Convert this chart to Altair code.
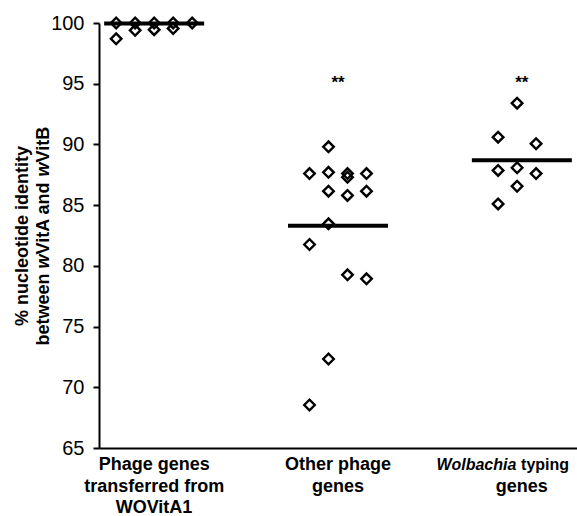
import altair as alt
import pandas as pd

# ---------------- data ----------------
group_pos = [1, 2, 3]
g1_values = [100, 100, 100, 100, 100, 98.7, 99.4, 99.45, 99.55]
g1_cols = [-2, -1, 0, 1, 2, -2, -1, 0, 1]
g2_values = [89.8, 87.6, 87.7, 87.6, 87.3, 87.6, 86.15, 85.8, 86.15,
             83.46, 81.76, 79.26, 78.93, 72.33, 68.54]
g2_cols = [-0.5, -1.5, -0.5, 0.5, 0.5, 1.5, -0.5, 0.5, 1.5,
           -0.5, -1.5, 0.5, 1.5, -0.5, -1.5]
g3_values = [93.4, 90.6, 90.06, 87.86, 88.08, 87.6, 86.56, 85.1]
g3_cols = [-0.25, -1.25, 0.75, -1.25, -0.25, 0.75, -0.25, -1.25]
group_means = [99.95, 83.3, 88.7]
sig_marks = ["", "**", "**"]
sig_level = 95.4
y_ticks = [65, 70, 75, 80, 85, 90, 95, 100]
label_lines = [["Phage genes", "transferred from", "WOVitA1"],
               ["Other phage", "genes"],
               ["Wolbachia typing", "genes"]]
italic_words = ["Wolbachia"]
y_title_lines = ["% nucleotide identity", "between wVitA and wVitB"]

# ---------------- layout constants ----------------
W, H = 478, 425
PAD_L, PAD_T = 99, 23
X_DOM = [0.7, 3.3]
PX = W / (X_DOM[1] - X_DOM[0])
COL_STEP = 19 / PX
HALF = 50 / PX
FONT = "Liberation Sans"
LBL_SIZE = 18
# per-line (size, horizontal shift in px) overrides for labels near the edge
line_style = {(3, 0): (16, -19)}

# Arial/Liberation Sans Bold advance widths (per 1000 em)
BW = {' ': 278, '%': 889, '*': 389, '1': 556, 'A': 722, 'B': 722, 'O': 778,
      'P': 667, 'V': 667, 'W': 944, 'a': 556, 'b': 611, 'c': 556, 'd': 611,
      'e': 556, 'f': 333, 'g': 611, 'h': 611, 'i': 278, 'l': 278, 'm': 889,
      'n': 611, 'o': 611, 'p': 611, 'r': 389, 's': 556, 't': 333, 'u': 611,
      'y': 556, 'w': 778}


def tw(s, size):
    return sum(BW.get(c, 556) for c in s) * size / 1000.0


def split_segments(line):
    segs = []
    for word in italic_words:
        if word in line:
            i = line.index(word)
            if i > 0:
                segs.append((line[:i], False))
            segs.append((word, True))
            if line[i + len(word):]:
                segs.append((line[i + len(word):], False))
            return segs
    return [(line, False)]


# ---------------- tables ----------------
pts = pd.DataFrame({
    "group": [1] * len(g1_values) + [2] * len(g2_values) + [3] * len(g3_values),
    "col": g1_cols + g2_cols + g3_cols,
    "value": g1_values + g2_values + g3_values,
})
means_df = pd.DataFrame({"group": group_pos, "mean": group_means})
sig_df = pd.DataFrame({"group": group_pos, "sig": sig_marks, "level": [sig_level] * 3})

xscale = alt.Scale(domain=X_DOM, nice=False, zero=False)
yscale = alt.Scale(domain=[65, 100], nice=False, zero=False)

base_axis = alt.Axis(domain=True, domainColor="black", domainWidth=2,
                     ticks=False, labels=False, grid=False, title=None)
y_axis = alt.Axis(values=y_ticks, domainColor="black", domainWidth=2,
                  tickColor="black", tickWidth=2, tickSize=6, grid=False,
                  labelFont=FONT, labelFontSize=20, labelColor="black",
                  labelPadding=9, title=None)

points = alt.Chart(pts).transform_calculate(
    xpos=f"datum.group + datum.col * {COL_STEP}"
).mark_point(shape="diamond", size=112, strokeWidth=2.4, color="black",
             filled=False, opacity=1).encode(
    x=alt.X("xpos:Q", scale=xscale, axis=base_axis),
    y=alt.Y("value:Q", scale=yscale, axis=y_axis),
)

mean_lines = alt.Chart(means_df).transform_calculate(
    x1=f"datum.group - {HALF}", x2=f"datum.group + {HALF}"
).mark_rule(color="black", strokeWidth=4).encode(
    x=alt.X("x1:Q", scale=xscale), x2="x2:Q", y=alt.Y("mean:Q", scale=yscale)
)

sig = alt.Chart(sig_df).mark_text(font=FONT, fontSize=17, fontWeight="bold",
                                  color="black", baseline="alphabetic", dy=9).encode(
    x=alt.X("group:Q", scale=xscale), y=alt.Y("level:Q", scale=yscale), text="sig:N"
)

# category labels (segment-wise so that the genus name can be italic)
rows = []
for g, lines in zip(group_pos, label_lines):
    for k, line in enumerate(lines):
        size, shift = line_style.get((g, k), (LBL_SIZE, 0))
        segs = split_segments(line)
        total = sum(tw(s, size) for s, _ in segs)
        off = -total / 2 + shift
        for s, it in segs:
            lead = len(s) - len(s.lstrip(" "))
            rows.append({"group": g, "line": k, "text": s.strip(" "),
                         "dx": off + tw(" " * lead, size), "italic": it,
                         "size": size})
            off += tw(s, size)
lab_df = pd.DataFrame(rows)
label_layers = []
for _, r in lab_df.iterrows():
    label_layers.append(
        alt.Chart(pd.DataFrame([r])).mark_text(
            font=FONT, fontSize=float(r["size"]), fontWeight="bold",
            fontStyle="italic" if r["italic"] else "normal", color="black",
            align="left", baseline="alphabetic", dx=float(r["dx"]),
        ).encode(x=alt.X("group:Q", scale=xscale),
                 y=alt.value(H + 22 + 21.5 * int(r["line"])), text="text:N")
    )

# y title (rotated, with italic strain prefix "w")
TSIZE = 18
title_rows = []
centre_y = 236 - PAD_T
for k, line in enumerate(y_title_lines):
    segs = []
    buf = ""
    i = 0
    while i < len(line):
        if line[i] == "w" and line[i + 1:i + 4] == "Vit":
            if buf:
                segs.append((buf, False))
                buf = ""
            segs.append(("w", True))
        else:
            buf += line[i]
        i += 1
    if buf:
        segs.append((buf, False))
    total = sum(tw(s, TSIZE) for s, _ in segs)
    pos = centre_y + total / 2
    for s, it in segs:
        lead = len(s) - len(s.lstrip(" "))
        title_rows.append({"line": k, "text": s.strip(" "),
                           "ypos": pos - tw(" " * lead, TSIZE), "italic": it})
        pos -= tw(s, TSIZE)
title_layers = []
for r in title_rows:
    title_layers.append(
        alt.Chart(pd.DataFrame([r])).mark_text(
            font=FONT, fontSize=TSIZE, fontWeight="bold",
            fontStyle="italic" if r["italic"] else "normal", color="black",
            align="left", baseline="alphabetic", angle=270,
        ).encode(x=alt.value(28 - PAD_L + 21 * r["line"]),
                 y=alt.value(float(r["ypos"])), text="text:N")
    )

chart = alt.layer(mean_lines, points, sig, *label_layers, *title_layers).properties(
    width=W, height=H,
    autosize=alt.AutoSizeParams(type="none"),
    padding={"left": PAD_L, "top": PAD_T, "right": 0, "bottom": 516 - PAD_T - H},
    background="white",
).configure_view(stroke=None)

chart.save("out.html", embed_options={"renderer": "svg", "actions": False})
